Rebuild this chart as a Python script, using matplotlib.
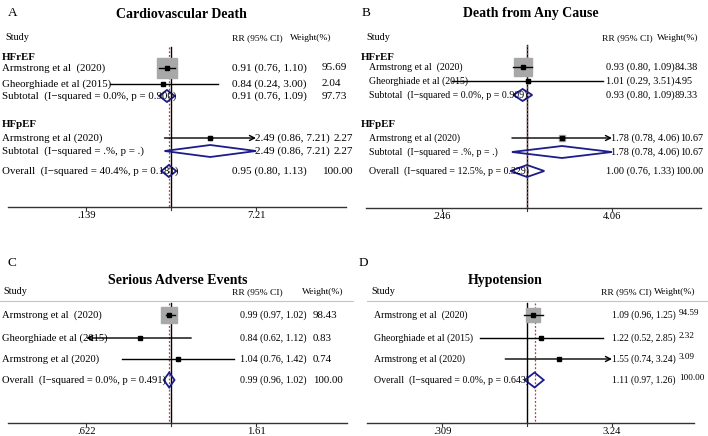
"""Four forest plots (RR, 95% CI) in the Stata metan style"""
import matplotlib
matplotlib.use("Agg")
from matplotlib import pyplot as plt
from matplotlib.patches import Polygon

plt.rcParams['font.family'] = ['Liberation Serif', 'DejaVu Serif']

NAN = float('nan')
M = '\u2212'

# A: cardiovascular death
cv_kind = ["group", "study", "study", "sub", "group", "study", "sub", "overall"]
cv_label = ["HFrEF", "Armstrong et al  (2020)", "Gheorghiade et al (2015)",
            f"Subtotal  (I{M}squared = 0.0%, p = 0.900)", "HFpEF",
            "Armstrong et al (2020)", f"Subtotal  (I{M}squared = .%, p = .)",
            f"Overall  (I{M}squared = 40.4%, p = 0.181)"]
cv_rr = [NAN, 0.91, 0.84, 0.91, NAN, 2.49, 2.49, 0.95]
cv_lo = [NAN, 0.76, 0.24, 0.76, NAN, 0.86, 0.86, 0.80]
cv_hi = [NAN, 1.10, 3.00, 1.09, NAN, 7.21, 7.21, 1.13]
cv_wt = ["", "95.69", "2.04", "97.73", "", "2.27", "2.27", "100.00"]
cv_ticks = [0.139, 7.21]

# B: death from any cause
ac_kind = cv_kind
ac_label = ["HFrEF", "Armstrong et al  (2020)", "Gheorghiade et al (2015)",
            f"Subtotal  (I{M}squared = 0.0%, p = 0.909)", "HFpEF",
            "Armstrong et al (2020)", f"Subtotal  (I{M}squared = .%, p = .)",
            f"Overall  (I{M}squared = 12.5%, p = 0.329)"]
ac_rr = [NAN, 0.93, 1.01, 0.93, NAN, 1.78, 1.78, 1.00]
ac_lo = [NAN, 0.80, 0.29, 0.80, NAN, 0.78, 0.78, 0.76]
ac_hi = [NAN, 1.09, 3.51, 1.09, NAN, 4.06, 4.06, 1.33]
ac_wt = ["", "84.38", "4.95", "89.33", "", "10.67", "10.67", "100.00"]
ac_ticks = [0.246, 4.06]

# C: serious adverse events
ae_kind = ["study", "study", "study", "overall"]
ae_label = ["Armstrong et al  (2020)", "Gheorghiade et al (2015)",
            "Armstrong et al (2020)", f"Overall  (I{M}squared = 0.0%, p = 0.491)"]
ae_rr = [0.99, 0.84, 1.04, 0.99]
ae_lo = [0.97, 0.62, 0.76, 0.96]
ae_hi = [1.02, 1.12, 1.42, 1.02]
ae_wt = ["98.43", "0.83", "0.74", "100.00"]
ae_ticks = [0.622, 1.61]

# D: hypotension
hy_kind = ae_kind
hy_label = ["Armstrong et al  (2020)", "Gheorghiade et al (2015)",
            "Armstrong et al (2020)", f"Overall  (I{M}squared = 0.0%, p = 0.643)"]
hy_rr = [1.09, 1.22, 1.55, 1.11]
hy_lo = [0.96, 0.52, 0.74, 0.97]
hy_hi = [1.25, 2.85, 3.24, 1.26]
hy_wt = ["94.59", "2.32", "3.09", "100.00"]
hy_ticks = [0.309, 3.24]

BOX = '#a8a8a8'
NAVY = '#1c1c8a'
RED = '#cc3333'

fig = plt.figure(figsize=(7.08, 4.36), dpi=100)


def panel(px0, letter, title, kind, label, rr, lo, hi, wt, ticks, lay):
    ax = fig.add_axes([px0 / 708, 0, 354 / 708, 1])
    ax.axis('off')
    t_hi = ticks[1]
    c = px0 + lay['center']
    s = 85.0

    def fx(p):
        return t_hi ** ((p - c) / s)

    ax.set_xscale('log')
    ax.set_xlim(fx(px0), fx(px0 + 354))
    ax.set_ylim(436, 0)

    def X(p):
        return fx(px0 + p)

    def tx(p, y, s, fs, **kw):
        kw.setdefault('va', 'center')
        return ax.text(X(p), y, s, fontsize=fs, clip_on=True, **kw)

    tx(lay['letter_x'], lay['letter_y'], letter, 9.5)
    tx(lay['title_x'], lay['title_y'], title, 10, fontweight='bold', ha='center')

    hy, fh = lay['head_y'], lay['fs_head']
    tx(lay['study_x'], hy + 3, "Study", fh + 0.5, va='baseline')
    tx(lay['rr_head_x'], hy + 3, "RR (95% CI)", fh, va='baseline')
    tx(lay['wt_head_x'], hy + 3, "Weight(%)", fh, va='baseline')
    if lay.get('hline'):
        x0, x1 = lay['hline']
        ax.plot([X(x0), X(x1)], [hy + 10, hy + 10], color='#c4c4c4', lw=0.8)

    rows = lay['rows']
    top, ay = lay['line_top'], lay['axis_y']
    ov = rr[-1]
    ax.plot([1, 1], [top, ay], color='k', lw=1.0, zorder=1)
    ax.plot([ov, ov], [top, ay], color=RED, lw=0.9, ls=(0, (1.5, 1.5)), zorder=1)

    # axis with ticks
    ax.plot([X(lay['axis_x'][0]), X(lay['axis_x'][1])], [ay, ay], color='#333333', lw=1.0)
    for tv in [ticks[0], 1, ticks[1]]:
        ax.plot([tv, tv], [ay, ay + 3], color='#333333', lw=0.8)
    for tv in ticks:
        txt = f"{tv:.3g}"
        if txt.startswith('0'):
            txt = txt[1:]
        ax.text(tv, ay + 8, txt, fontsize=7.6, ha='center', va='center')

    lo_lim, hi_lim = ticks
    for i, k in enumerate(kind):
        y = rows[i]
        if k == 'group':
            tx(lay['grp_x'], y, label[i], 7.8, fontweight='bold')
            continue
        tx(lay['lab_x'], y, label[i], lay['fs_lab'], zorder=5)
        cx = lay['ci_x'][i] if isinstance(lay['ci_x'], list) else lay['ci_x']
        wx = lay['wt_x'][i] if isinstance(lay['wt_x'], list) else lay['wt_x']
        tx(cx, y, f"{rr[i]:.2f} ({lo[i]:.2f}, {hi[i]:.2f})", lay['fs_ci'])
        tx(wx, y + lay.get('wt_dy', 0), wt[i], lay['fs_wt'])
        if k == 'study':
            side = lay['box'] * (float(wt[i]) / 100) ** 0.5
            ax.plot(rr[i], y, marker='s', ms=side * 0.72, color=BOX, mec=BOX, zorder=2)
            a, b = max(lo[i], lo_lim), min(hi[i], hi_lim)
            arrow = dict(arrowstyle='->', lw=1.0, color='k', shrinkA=0, shrinkB=0,
                         mutation_scale=9)
            if hi[i] >= hi_lim:
                ax.annotate("", xy=(b, y), xytext=(a, y), zorder=3, arrowprops=arrow)
            elif lo[i] <= lo_lim:
                ax.annotate("", xy=(a, y), xytext=(b, y), zorder=3, arrowprops=arrow)
            else:
                ax.plot([a, b], [y, y], color='k', lw=1.0, zorder=3)
            ax.plot(rr[i], y, marker='s', ms=2.2, color='k', zorder=4)
        else:
            h = lay['dia_h']
            a, b = max(lo[i], lo_lim), min(hi[i], hi_lim)
            ax.add_patch(Polygon([(a, y), (rr[i], y - h), (b, y), (rr[i], y + h)],
                                 closed=True, fill=False, ec=NAVY, lw=1.3, zorder=3))
    return ax


lay_a = dict(center=171, letter_x=8, letter_y=13, title_x=181, title_y=14,
             head_y=37, study_x=5, rr_head_x=232, wt_head_x=290,
             rows=[57, 68, 84, 96, 124, 138, 151, 171], line_top=47, axis_y=207,
             axis_x=(8, 346), grp_x=2, lab_x=2,
             ci_x=[0, 232, 232, 232, 0, 255, 255, 232],
             wt_x=[0, 322, 322, 322, 0, 334, 334, 322], box=21, dia_h=6,
             fs_lab=7.8, fs_ci=8.1, fs_wt=8.1, fs_head=6.8)
lay_b = dict(center=173, letter_x=8, letter_y=13, title_x=177, title_y=14,
             head_y=37, study_x=12, rr_head_x=248, wt_head_x=303,
             rows=[57, 67, 81, 95, 124, 138, 152, 171], line_top=45, axis_y=208,
             axis_x=(12, 347), grp_x=7, lab_x=15,
             ci_x=[0, 252, 252, 252, 0, 257, 257, 252],
             wt_x=[0, 321, 321, 321, 0, 326, 326, 321], box=19, dia_h=6,
             fs_lab=7.1, fs_ci=7.4, fs_wt=7.4, fs_head=6.8)
lay_c = dict(center=171, letter_x=8, letter_y=263, title_x=178, title_y=280,
             head_y=291, study_x=3, rr_head_x=232, wt_head_x=302, hline=(0, 353),
             rows=[315, 338, 359, 380], line_top=303, axis_y=423,
             axis_x=(8, 347), grp_x=2, lab_x=2, ci_x=240, wt_x=313, box=17, dia_h=7.5,
             fs_lab=7.6, fs_ci=7.2, fs_wt=7.8, fs_head=6.8)
lay_d = dict(center=173, letter_x=5, letter_y=263, title_x=151, title_y=280,
             head_y=291, study_x=17, rr_head_x=247, wt_head_x=300, hline=(13, 354),
             rows=[315, 338, 359, 380], line_top=303, axis_y=423,
             axis_x=(13, 340), grp_x=20, lab_x=20, ci_x=258, wt_x=325, wt_dy=-2,
             box=15, dia_h=7.5, fs_lab=7.1, fs_ci=6.9, fs_wt=6.6, fs_head=6.8)

panel(0, "A", "Cardiovascular Death", cv_kind, cv_label, cv_rr, cv_lo, cv_hi, cv_wt, cv_ticks, lay_a)
panel(354, "B", "Death from Any Cause", ac_kind, ac_label, ac_rr, ac_lo, ac_hi, ac_wt, ac_ticks, lay_b)
panel(0, "C", "Serious Adverse Events", ae_kind, ae_label, ae_rr, ae_lo, ae_hi, ae_wt, ae_ticks, lay_c)
panel(354, "D", "Hypotension", hy_kind, hy_label, hy_rr, hy_lo, hy_hi, hy_wt, hy_ticks, lay_d)

fig.savefig("out.png", dpi=100)
